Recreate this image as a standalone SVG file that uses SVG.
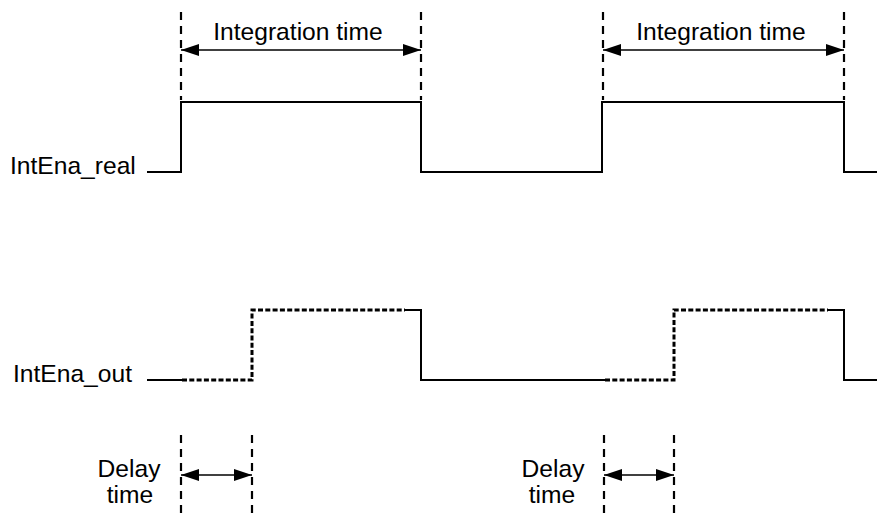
<svg xmlns="http://www.w3.org/2000/svg" width="877" height="517" viewBox="0 0 877 517">
<style>
  .lbl { font-family: "Liberation Sans", Arial, sans-serif; font-size: 24.6px; fill: #000; }
  .mid { text-anchor: middle; }
  .sig { fill: none; stroke: #000; stroke-width: 2; }
  .dot { fill: none; stroke: #000; stroke-width: 3; stroke-dasharray: 5 2.3; }
  .guide { fill: none; stroke: #000; stroke-width: 2.2; stroke-dasharray: 8 6; }
  .dim { fill: none; stroke: #000; stroke-width: 1.5; marker-start: url(#ah); marker-end: url(#ah); }
</style>
<defs>
  <marker id="ah" viewBox="0 0 18 12" refX="18" refY="6" markerWidth="18" markerHeight="12" markerUnits="userSpaceOnUse" orient="auto-start-reverse">
    <path d="M0,0 L18,6 L0,12 Z" fill="#000"/>
  </marker>
</defs>
<rect width="877" height="517" fill="#fff"/>

<g id="intena_real">
  <text class="lbl" x="10" y="174">IntEna_real</text>
  <path class="sig" d="M147,172 H181 V102 H421 V172 H602 V102 H844 V172 H877"/>
</g>

<g id="intena_out">
  <text class="lbl" x="13" y="382">IntEna_out</text>
  <path class="sig" d="M147,380 H182"/>
  <path class="dot" d="M182,380 H252 V310 H405"/>
  <path class="sig" d="M405,310 H421 V380 H605"/>
  <path class="dot" d="M605,380 H674 V310 H828"/>
  <path class="sig" d="M828,310 H844 V380 H877"/>
</g>

<g id="guides">
  <line class="guide" x1="181" y1="12" x2="181" y2="100"/>
  <line class="guide" x1="421" y1="12" x2="421" y2="100"/>
  <line class="guide" x1="603" y1="12" x2="603" y2="100"/>
  <line class="guide" x1="844" y1="12" x2="844" y2="100"/>
  <line class="guide" x1="181" y1="435" x2="181" y2="517"/>
  <line class="guide" x1="252" y1="435" x2="252" y2="517"/>
  <line class="guide" x1="604" y1="435" x2="604" y2="517"/>
  <line class="guide" x1="674" y1="435" x2="674" y2="517"/>
</g>

<g id="connectors">
  <line class="dim" x1="181" y1="50" x2="421" y2="50"/>
  <line class="dim" x1="603" y1="50" x2="844" y2="50"/>
  <line class="dim" x1="181" y1="475" x2="252" y2="475"/>
  <line class="dim" x1="604" y1="475" x2="674" y2="475"/>
</g>

<g id="integration1">
  <text class="lbl mid" x="298" y="40">Integration time</text>
</g>
<g id="integration2">
  <text class="lbl mid" x="721" y="40">Integration time</text>
</g>
<g id="delay1">
  <text class="lbl mid" x="129" y="477">Delay</text>
  <text class="lbl mid" x="130" y="503">time</text>
</g>
<g id="delay2">
  <text class="lbl mid" x="553" y="477">Delay</text>
  <text class="lbl mid" x="552" y="503">time</text>
</g>
</svg>
